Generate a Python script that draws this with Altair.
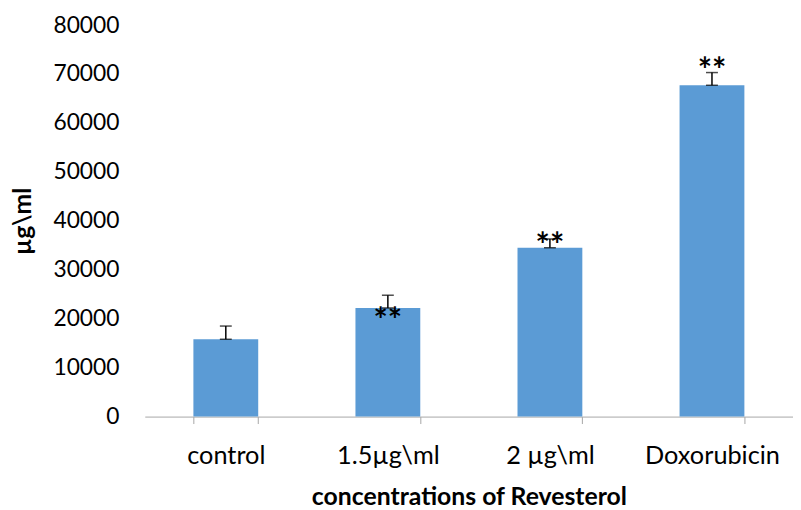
import altair as alt
import pandas as pd

categories = ["control", "1.5µg\\ml", "2 µg\\ml", "Doxorubicin"]
values = [15800, 22200, 34500, 67700]
errors = [2700, 2600, 1800, 2600]
stars = ["", "**", "**", "**"]
star_pos = [0, 21470, 36860, 72710]

df = pd.DataFrame({
    "cat": categories,
    "value": values,
    "err_top": [v + e for v, e in zip(values, errors)],
    "star": stars,
    "star_y": star_pos,
})

FONT = "Lato"
x = alt.X("cat:N", sort=categories,
          scale=alt.Scale(paddingInner=0.6, paddingOuter=0.3),
          axis=alt.Axis(title="concentrations of Revesterol", labelAngle=0,
                        tickBand="extent", tickSize=7, tickColor="#A6A6A6",
                        domainColor="#A6A6A6", labelFont=FONT, labelFontSize=25.5,
                        labelColor="#000", labelPadding=20,
                        titleFont=FONT, titleFontSize=25, titleFontWeight="bold",
                        titleColor="#000", titlePadding=16))
y = alt.Y("value:Q", scale=alt.Scale(domain=[0, 80000]),
          axis=alt.Axis(title="µg\\ml", values=list(range(0, 80001, 10000)),
                        format="d",
                        grid=False, domain=False, ticks=False, labelFont=FONT,
                        labelFontSize=23, labelColor="#000", labelPadding=26,
                        titleFont=FONT, titleFontSize=25, titleFontWeight="bold",
                        titleColor="#000", titlePadding=18))

base = alt.Chart(df)
bars = base.mark_bar(color="#5B9BD5").encode(x=x, y=y)
rule = base.mark_rule(color="#000", strokeWidth=1.5).encode(
    x=alt.X("cat:N", sort=categories), y="value:Q", y2="err_top:Q")
cap_top = base.mark_tick(color="#000", thickness=1.5, size=12).encode(
    x=alt.X("cat:N", sort=categories), y="err_top:Q")
cap_bot = base.mark_tick(color="#000", thickness=1.5, size=12).encode(
    x=alt.X("cat:N", sort=categories), y="value:Q")
txt = base.transform_filter(alt.datum.star != "").mark_text(
    font=FONT, fontSize=34, fontWeight="bold", color="#000", baseline="middle", dy=11
).encode(x=alt.X("cat:N", sort=categories), y="star_y:Q", text="star:N")

chart = alt.layer(bars, rule, cap_top, cap_bot, txt).properties(
    width=654, height=395,
    background="white",
    autosize=alt.AutoSizeParams(type="none"),
    padding={"left": 138, "top": 15, "right": 0, "bottom": 92},
).configure_view(stroke=None)

chart.save("out.html", embed_options={"renderer": "svg", "actions": False})
